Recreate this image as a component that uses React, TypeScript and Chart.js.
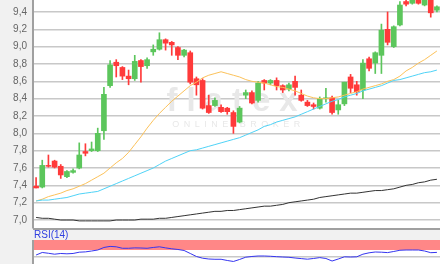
import React, { useEffect, useRef } from 'react';
import { Chart, registerables } from 'chart.js';
Chart.register(...registerables);

const categories = Array.from({ length: 66 }, (_, i) => String(i + 1));
const opens = [7.39,7.38,7.63,7.68,7.62,7.50,7.55,7.60,7.79,7.80, 7.80,8.03,8.55,8.82,8.76,8.66,8.63,8.84,8.78,8.94, 8.97,9.08,9.05,8.99,8.90,8.93,8.63,8.61,8.32,8.32, 8.30,8.29,8.24,8.13,8.44,8.47,8.38,8.61,8.58,8.61, 8.55,8.51,8.60,8.44,8.36,8.33,8.29,8.40,8.41,8.27, 8.34,8.65,8.56,8.50,8.86,8.81,8.90,9.20,9.00,9.25, 9.52,9.50,9.54,9.48,9.54,9.42];
const highs = [7.49,7.69,7.75,7.69,7.64,7.57,7.59,7.89,7.88,7.90, 8.06,8.53,8.84,8.85,8.77,8.73,8.90,8.85,8.87,9.02, 9.16,9.09,9.06,9.00,8.97,8.95,8.65,8.63,8.44,8.41, 8.33,8.30,8.26,8.31,8.50,8.49,8.60,8.62,8.62,8.64, 8.56,8.58,8.66,8.50,8.38,8.35,8.42,8.52,8.43,8.38, 8.59,8.68,8.60,8.85,8.88,8.94,9.26,9.40,9.24,9.52, 9.55,9.56,9.56,9.58,9.56,9.47];
const lows = [7.37,7.37,7.61,7.60,7.48,7.49,7.54,7.59,7.74,7.79, 7.79,7.93,8.53,8.65,8.62,8.56,8.61,8.59,8.75,8.90, 8.96,8.96,8.90,8.85,8.88,8.57,8.44,8.28,8.23,8.31, 8.24,8.22,8.00,8.12,8.40,8.34,8.36,8.50,8.56,8.50, 8.47,8.49,8.44,8.37,8.31,8.28,8.28,8.36,8.22,8.22, 8.32,8.47,8.44,8.40,8.72,8.69,8.69,9.02,8.99,9.24, 9.47,9.49,9.49,9.47,9.34,9.40];
const closes = [7.37,7.63,7.62,7.61,7.52,7.56,7.57,7.75,7.77,7.82, 8.00,8.45,8.79,8.78,8.66,8.63,8.83,8.77,8.85,8.97, 9.08,9.04,9.02,8.90,8.96,8.59,8.56,8.29,8.24,8.38, 8.25,8.25,8.08,8.29,8.47,8.35,8.58,8.58,8.61,8.55, 8.50,8.56,8.53,8.38,8.32,8.31,8.40,8.41,8.24,8.33, 8.59,8.52,8.48,8.81,8.75,8.93,9.19,9.05,9.23,9.48, 9.49,9.54,9.50,9.54,9.39,9.46];
const maOrange = [7.22,7.24,7.27,7.29,7.31,7.34,7.36,7.39,7.42,7.46, 7.50,7.54,7.60,7.66,7.71,7.78,7.87,7.96,8.06,8.15, 8.23,8.30,8.37,8.43,8.49,8.55,8.59,8.64,8.67,8.69, 8.71,8.69,8.67,8.65,8.62,8.60,8.59,8.58,8.56,8.54, 8.53,8.51,8.49,8.46,8.43,8.41,8.40,8.40,8.41,8.42, 8.44,8.46,8.48,8.51,8.53,8.55,8.57,8.60,8.62,8.66, 8.72,8.76,8.81,8.85,8.90,8.95];
const maCyan = [7.22,7.23,7.23,7.24,7.25,7.26,7.28,7.30,7.31,7.32, 7.33,7.36,7.39,7.42,7.45,7.48,7.51,7.54,7.57,7.60, 7.64,7.68,7.71,7.74,7.77,7.80,7.81,7.83,7.85,7.87, 7.89,7.91,7.93,7.95,7.98,8.01,8.04,8.08,8.10,8.13, 8.15,8.17,8.19,8.22,8.25,8.28,8.31,8.34,8.37,8.39, 8.42,8.44,8.46,8.49,8.51,8.53,8.55,8.58,8.61,8.62, 8.64,8.66,8.68,8.70,8.71,8.73];
const maBlack = [7.03,7.02,7.02,7.01,7.00,7.00,7.00,6.99,6.99,6.99, 6.99,6.99,6.99,7.00,7.00,7.00,7.00,7.01,7.01,7.01, 7.02,7.02,7.03,7.04,7.05,7.06,7.07,7.08,7.09,7.10, 7.10,7.11,7.11,7.12,7.13,7.14,7.15,7.16,7.16,7.17, 7.18,7.20,7.21,7.22,7.23,7.24,7.26,7.27,7.28,7.29, 7.30,7.31,7.31,7.32,7.33,7.34,7.34,7.35,7.36,7.38, 7.40,7.41,7.43,7.44,7.46,7.47];
const rsi = [62.5,68.8,66.8,64.5,66.3,65.5,66.3,69.5,70.3,72.5, 75,81.3,84,83,79.3,79.3,80.3,80,79.3,81.3, 83,80.3,78,76.3,73.8,66.3,58.8,54.5,52.5,51.8, 51.8,48.8,46.3,51.3,57,58.8,60,60,59.3,58.3, 57.5,56.8,55,53.5,52,53.8,56,53.8,47.5,52.5, 58,57.5,58,64.5,68,70,69.5,68.5,71.3,74.3, 75,75,75,72.5,68.3,69];
const yTicks = [7.0, 7.2, 7.4, 7.6, 7.8, 8.0, 8.2, 8.4, 8.6, 8.8, 9.0, 9.2, 9.4];
const rsiGridLevels = [57.5, 75];
const rsiLabelLevels = [75];
const rsiBandFrom = 75;

const UP = '#5cc65c';
const DOWN = '#ff3a3a';
const FONT = "'Liberation Sans', Arial, sans-serif";

export default function App() {
  const mainRef = useRef<HTMLCanvasElement>(null);
  const rsiRef = useRef<HTMLCanvasElement>(null);

  useEffect(() => {
    const colors = opens.map((o, i) => (closes[i] >= o ? UP : DOWN));
    const bgPlugin = {
      id: 'bg',
      beforeDraw(chart: any) {
        const { ctx, chartArea: a } = chart;
        ctx.save();
        ctx.fillStyle = '#ffffff';
        ctx.fillRect(a.left, a.top, a.right - a.left, a.bottom - a.top);
        ctx.restore();
      },
    };
    const watermark = {
      id: 'wm',
      beforeDatasetsDraw(chart: any) {
        const { ctx, chartArea: a } = chart;
        const cx = (a.left + a.right) / 2 + 0;
        ctx.save();
        ctx.fillStyle = '#e8e8e8';
        ctx.textAlign = 'center';
        ctx.textBaseline = 'alphabetic';
        (ctx as any).letterSpacing = '9px';
        ctx.font = `bold 33px ${FONT}`;
        ctx.fillText('flatex', cx, 111);
        (ctx as any).letterSpacing = '4.5px';
        ctx.font = `9px ${FONT}`;
        ctx.fillText('ONLINE BROKER', cx + 2, 127);
        ctx.restore();
      },
    };
    const bottomBorder = {
      id: 'bb',
      afterDraw(chart: any) {
        const { ctx, chartArea: a } = chart;
        ctx.save();
        ctx.strokeStyle = '#a0a0a0';
        ctx.lineWidth = 2;
        ctx.beginPath();
        ctx.moveTo(a.left, a.bottom + 1);
        ctx.lineTo(a.right, a.bottom + 1);
        ctx.stroke();
        ctx.restore();
      },
    };

    const main = new Chart(mainRef.current!, {
      type: 'bar',
      data: {
        labels: categories,
        datasets: [
          {
            type: 'line', data: maBlack, borderColor: '#333333', borderWidth: 1, pointRadius: 0, order: 1,
          } as any,
          {
            type: 'line', data: maCyan, borderColor: '#4fd3f7', borderWidth: 1, pointRadius: 0, order: 1,
          } as any,
          {
            type: 'line', data: maOrange, borderColor: '#fcc25a', borderWidth: 1, pointRadius: 0, order: 1,
          } as any,
          {
            type: 'bar',
            data: opens.map((o, i) => [Math.min(o, closes[i]), Math.max(o, closes[i])]),
            backgroundColor: colors, borderWidth: 0, barThickness: 5, grouped: false, order: 2,
          } as any,
          {
            type: 'bar',
            data: lows.map((l, i) => [l, highs[i]]),
            backgroundColor: colors, borderWidth: 0, barThickness: 1, grouped: false, order: 3,
          } as any,
        ],
      },
      options: {
        animation: false,
        responsive: false,
        maintainAspectRatio: false,
        layout: { padding: { left: 0, right: 0, top: 0, bottom: 2 } },
        plugins: { legend: { display: false }, tooltip: { enabled: false } },
        scales: {
          x: { type: 'category', display: false, offset: true },
          y: {
            min: 6.908,
            max: 9.538,
            afterBuildTicks: (s: any) => { s.ticks = yTicks.map((v) => ({ value: v })); },
            afterFit: (s: any) => { s.width = 33; s.paddingTop = 0; s.paddingBottom = 0; },
            grid: { color: '#c8c8c8', lineWidth: 1.5, drawTicks: false },
            border: { display: true, color: '#a0a0a0', width: 2 },
            ticks: {
              padding: 6, color: '#666666', font: { family: FONT, size: 10 },
              callback: (v: any) => Number(v).toFixed(1).replace('.', ','),
            },
          },
        },
      } as any,
      plugins: [bgPlugin, watermark, bottomBorder],
    });

    const band = {
      id: 'band',
      beforeDraw(chart: any) {
        const { ctx, chartArea: a, scales } = chart;
        ctx.save();
        ctx.fillStyle = '#ffffff';
        ctx.fillRect(a.left, a.top, a.right - a.left, a.bottom - a.top);
        const y = scales.y.getPixelForValue(rsiBandFrom);
        const yTop = scales.y.getPixelForValue(scales.y.max);
        ctx.fillStyle = '#ff8787';
        ctx.fillRect(a.left, yTop, a.right - a.left, y - yTop);
        ctx.restore();
      },
    };

    const rsiChart = new Chart(rsiRef.current!, {
      type: 'line',
      data: {
        labels: categories,
        datasets: [
          { data: rsi, borderColor: '#3535f0', borderWidth: 1, pointRadius: 0 },
        ],
      },
      options: {
        animation: false,
        responsive: false,
        maintainAspectRatio: false,
        layout: { padding: 0 },
        plugins: { legend: { display: false }, tooltip: { enabled: false } },
        scales: {
          x: { type: 'category', display: false, offset: true },
          y: {
            min: 40,
            max: 100,
            afterBuildTicks: (s: any) => { s.ticks = rsiGridLevels.map((v) => ({ value: v })); },
            afterFit: (s: any) => { s.width = 33; s.paddingTop = 0; s.paddingBottom = 0; },
            grid: { color: '#c8c8c8', lineWidth: 1.5, drawTicks: false },
            border: { display: true, color: '#a0a0a0', width: 2 },
            ticks: {
              padding: 8, color: '#666666', font: { family: FONT, size: 10 },
              callback: (v: any) => (rsiLabelLevels.includes(Number(v)) ? String(v) : ''),
            },
          },
        },
      } as any,
      plugins: [band],
    });

    return () => {
      main.destroy();
      rsiChart.destroy();
    };
  }, []);

  return (
    <div style={{ position: 'fixed', left: 0, top: 0, width: 440, height: 264, background: '#f1f1f1', overflow: 'hidden' }}>
      <canvas ref={mainRef} width={440} height={230} style={{ position: 'absolute', left: 0, top: 0 }} />
      <div style={{ position: 'absolute', left: 34, top: 229, font: `10px ${FONT}`, lineHeight: '11px', color: '#3040e0' }}>RSI(14)</div>
      <canvas ref={rsiRef} width={440} height={24} style={{ position: 'absolute', left: 0, top: 240 }} />
    </div>
  );
}
